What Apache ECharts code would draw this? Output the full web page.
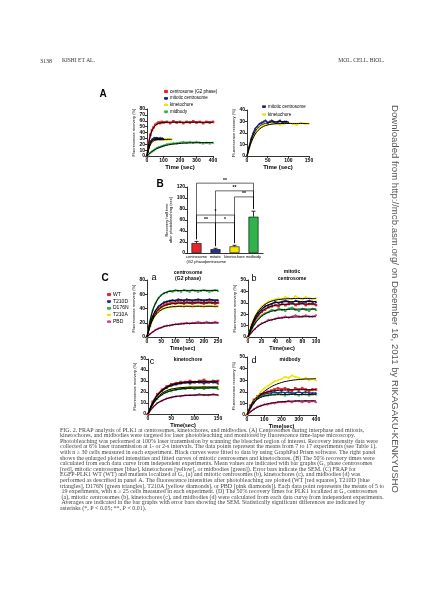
<!DOCTYPE html>
<html><head><meta charset="utf-8">
<script src="https://cdn.jsdelivr.net/npm/echarts/dist/echarts.min.js"></script>
<style>html,body{margin:0;padding:0;background:#fff}#c{width:424px;height:600px}</style>
</head><body><div id="c"></div>
<script>
// ---------- Panel A data ----------
const tALong = [0,10,20,30,40,50,60,70,80,90,100,120,140,160,180,200,220,240,260,280,300,320,340,360,380,400];
const centroG2 = [0,23,36,44,49,53,55,57,56,58,57,58,56,59,57,58,56,58,57,59,57,58,56,58,57,58];
const centroG2Fit = [0,21,34,43,48,52,54,55.5,56.3,56.8,57.1,57.4,57.5,57.5,57.5,57.5,57.5,57.5,57.5,57.5,57.5,57.5,57.5,57.5,57.5,57.5];
const midbody = [0,3,6,8,10,12,14,15,16,17,18,20,21,22,22,23,24,23,24,23,24,23,22,23,22,23];
const midbodyFit = [0,2.8,5.3,7.5,9.4,11.1,12.6,13.9,15.0,16.0,16.9,18.3,19.4,20.3,20.9,21.4,21.8,22.1,22.3,22.5,22.6,22.7,22.8,22.8,22.9,22.9];
const tAMit = [0,5,10,15,20,25,30,35,40,45,50,55,60,65,70,75,80,85,90,95,100];
const mitCentro = [0,8,15,20,24,26,28,29,30,31,29,30,31,30,29,30,31,29,30,30,29];
const mitCentroFit = [0,7.5,13.5,18,21.5,24,25.8,27,27.9,28.5,29,29.3,29.5,29.6,29.7,29.8,29.8,29.8,29.8,29.8,29.8];
const tAKin = [0,10,20,30,40,50,60,70,80,90,100,110,120,130,140,150];
const kineto = [0,12,20,24,27,27,28,29,27,28,29,28,27,29,28,28];
const kinetoFit = [0,11.5,19,23.3,25.7,27,27.7,28,28.2,28.3,28.3,28.3,28.3,28.3,28.3,28.3];

// ---------- Panel B data ----------
const bCats = ['centrosome\n(G2 phase)','mitotic\ncentrosome','kinetochore','midbody'];
const bMeans = [18,7,12,66];
const bSem = [3,1.5,2,10];
const bracketFrom = [0,1,2,0,0,1];
const bracketTo = [3,3,3,2,1,2];
const bracketLevel = [127,113,102,69,55,55];
const bracketMark = ['**','**','**','*','**','*'];

// ---------- Panel C data ----------
const tCa = [0,10,20,30,40,50,60,70,80,90,100,110,120,130,140,150,160,170,180,190,200,210,220,230,240,250];
const WTa = [0,16,27,34,39,42,45,46,47,48,47,49,48,47,49,48,47,48,49,48,47,48,49,48,47,48];
const WTaFit = [0,15,26,33,38,41.5,43.6,45,46,46.7,47.1,47.4,47.6,47.7,47.8,47.8,47.9,47.9,47.9,47.9,47.9,47.9,47.9,47.9,47.9,47.9];
const T210Da = [0,17,29,37,43,46,49,50,51,52,51,53,52,51,53,52,51,52,53,52,51,52,53,52,51,52];
const T210DaFit = [0,17,29,37,42,45.5,48,49.5,50.5,51,51.4,51.7,51.8,51.9,52,52,52,52,52,52,52,52,52,52,52,52];
const D176Na = [0,22,38,48,55,59,62,63,65,64,66,65,64,66,65,64,66,65,64,65,66,65,64,65,66,65];
const D176NaFit = [0,21,37,47,54,58.5,61.3,63,64,64.6,65,65.2,65.3,65.4,65.4,65.4,65.4,65.4,65.4,65.4,65.4,65.4,65.4,65.4,65.4,65.4];
const T210Aa = [0,14,24,31,35,38,40,41,42,43,42,44,43,42,44,43,42,43,44,43,42,43,44,43,42,43];
const T210AaFit = [0,14,24,30.5,35,38,40,41.3,42,42.5,42.8,43,43.1,43.1,43.1,43.1,43.1,43.1,43.1,43.1,43.1,43.1,43.1,43.1,43.1,43.1];
const PBDa = [0,4,7,10,12,13,15,16,16,17,18,18,19,19,20,19,20,20,21,20,20,21,20,20,21,20];
const PBDaFit = [0,3.8,7,9.6,11.7,13.3,14.6,15.6,16.4,17.1,17.6,18,18.3,18.6,18.8,19,19.1,19.2,19.3,19.4,19.5,19.5,19.6,19.6,19.6,19.7];

const tCb = [0,5,10,15,20,25,30,35,40,45,50,55,60,65,70,75,80,85,90,95,100];
const T210Ab = [0,11,18,23,27,29,31,32,33,34,33,35,34,33,36,34,33,35,34,33,34];
const T210AbFit = [0,10,17.5,22.5,26,28.5,30.3,31.5,32.3,32.8,33.2,33.5,33.6,33.7,33.8,33.8,33.8,33.8,33.8,33.8,33.8];
const T210Db = [0,9,16,21,24,27,28,29,31,30,31,32,31,30,32,31,30,31,32,31,31];
const T210DbFit = [0,9,16,21,24.5,26.8,28.3,29.3,30,30.4,30.7,30.9,31,31,31.1,31.1,31.1,31.1,31.1,31.1,31.1];
const WTb = [0,8,14,19,22,24,26,27,28,27,29,28,29,30,28,29,30,28,29,29,28];
const WTbFit = [0,8,14.5,19,22.3,24.5,26,27,27.7,28.2,28.5,28.7,28.8,28.9,28.9,29,29,29,29,29,29];
const D176Nb = [0,6,12,16,19,21,22,24,23,25,24,23,25,26,24,23,25,24,23,25,24];
const D176NbFit = [0,6.5,11.5,15.3,18.2,20.2,21.6,22.6,23.3,23.7,24,24.2,24.3,24.4,24.4,24.5,24.5,24.5,24.5,24.5,24.5];
const PBDb = [0,4,7,10,12,13,15,15,16,17,17,18,17,18,19,18,18,19,18,18,19];
const PBDbFit = [0,3.8,7,9.5,11.5,13,14.2,15.1,15.8,16.3,16.7,17,17.2,17.4,17.5,17.6,17.7,17.8,17.8,17.8,17.8];

const tCc = [0,10,20,30,40,50,60,70,80,90,100,110,120,130,140,150];
const WTc = [0,11,18,22,25,27,28,29,29,30,29,30,31,29,30,30];
const WTcFit = [0,10.5,17.3,21.8,24.7,26.6,27.8,28.5,29,29.3,29.5,29.6,29.7,29.7,29.8,29.8];
const T210Dc = [0,10,17,21,24,26,27,28,29,28,29,29,28,29,29,28];
const T210DcFit = [0,10,16.8,21.2,24,25.9,27,27.8,28.3,28.6,28.8,28.9,29,29,29,29];
const D176Nc = [0,9,14,18,20,21,22,23,23,24,23,24,23,24,24,23];
const D176NcFit = [0,8.6,14,17.5,19.8,21.3,22.2,22.8,23.2,23.4,23.5,23.6,23.6,23.7,23.7,23.7];
const T210Ac = [0,9,15,19,21,23,23,24,24,25,24,24,25,24,24,25];
const T210AcFit = [0,9,15,18.8,21.2,22.6,23.4,23.9,24.2,24.4,24.5,24.5,24.6,24.6,24.6,24.6];
const PBDc = [0,6,10,12,14,15,16,16,17,17,17,18,17,17,18,17];
const PBDcFit = [0,5.8,9.7,12.3,14,15.2,16,16.5,16.8,17,17.2,17.3,17.4,17.4,17.5,17.5];

const tCd = [0,20,40,60,80,100,120,140,160,180,200,220,240,260,280,300,320,340,360,380,400];
const T210Ad = [0,7,12,16,20,23,25,27,29,30,31,33,32,34,33,32,31,32,30,31,30];
const T210AdFit = [0,5.5,10.3,14.3,17.6,20.3,22.5,24.3,25.8,27,28,28.8,29.4,29.9,30.3,30.6,30.8,31,31.1,31.2,31.3];
const WTd = [0,8,13,16,18,19,20,21,22,23,22,23,22,21,23,22,23,22,21,22,22];
const WTdFit = [0,7.5,12.5,15.6,17.6,19,19.9,20.5,20.9,21.2,21.4,21.5,21.6,21.7,21.7,21.8,21.8,21.8,21.8,21.8,21.8];
const T210Dd = [0,7,12,15,17,18,19,19,20,19,20,19,20,19,19,20,19,20,19,19,19];
const D176Nd = [0,7,11,14,16,17,17,18,18,19,18,17,18,19,18,17,18,18,17,18,18];
const D176NdFit = [0,6.8,11,13.6,15.2,16.2,16.8,17.2,17.4,17.5,17.6,17.7,17.7,17.7,17.7,17.7,17.7,17.7,17.7,17.7,17.7];
const PBDd = [0,3,5,7,8,9,9,10,10,11,11,11,12,11,12,12,11,12,11,12,11];
const PBDdFit = [0,2.6,4.8,6.5,7.8,8.9,9.7,10.3,10.8,11.2,11.5,11.7,11.9,12,12.1,12.2,12.2,12.3,12.3,12.3,12.3];

const caption = 'FIG. 2. FRAP analysis of PLK1 at centrosomes, kinetochores, and midbodies. (A) Centrosomes during interphase and mitosis, kinetochores, and midbodies were targeted for laser photobleaching and monitored by fluorescence time-lapse microscopy. Photobleaching was performed at 100% laser transmission by scanning the bleached region of interest. Recovery intensity data were collected at 6% laser transmission at 1- or 2-s intervals. The data points represent the means from 7 to 17 experiments (see Table 1), with n \u2265 30 cells measured in each experiment. Black curves were fitted to data by using GraphPad Prism software. The right panel shows the enlarged plotted intensities and fitted curves of mitotic centrosomes and kinetochores. (B) The 50% recovery times were calculated from each data curve from independent experiments. Mean values are indicated with bar graphs (G\u2082 phase centrosomes [red], mitotic centrosomes [blue], kinetochores [yellow], or midbodies [green]). Error bars indicate the SEM. (C) FRAP for EGFP-PLK1 WT (WT) and mutants localized at G\u2082 (a) and mitotic centrosomes (b), kinetochores (c), and midbodies (d) was performed as described in panel A. The fluorescence intensities after photobleaching are plotted (WT [red squares], T210D [blue triangles], D176N [green triangles], T210A [yellow diamonds], or PBD [pink diamonds]). Each data point represents the means of 5 to 19 experiments, with n \u2265 25 cells measured in each experiment. (D) The 50% recovery times for PLK1 localized at G\u2082 centrosomes (a), mitotic centrosomes (b), kinetochores (c), and midbodies (d) were calculated from each data curve from independent experiments. Averages are indicated in the bar graphs with error bars showing the SEM. Statistically significant differences are indicated by asterisks (*, P < 0.05; **, P < 0.01).';

// ---------- styling ----------
const RED='#e3262b', BLUE='#26318f', GREEN='#2fb34a', YELLOW='#f2e400', PINK='#e8338a', NAVY='#1c2370';
const SANS='"Liberation Sans", Arial, sans-serif';
const AX={color:'#000',width:0.8};
const pts=(t,v)=>t.map((x,i)=>[x,v[i]]);

function vAx(g,min,max,interval,name,gap,nameSize,bold){
  return {type:'value',gridIndex:g,min,max,interval,
    axisLine:{show:true,onZero:false,lineStyle:AX},
    axisTick:{show:true,length:2,lineStyle:AX},
    splitLine:{show:false},
    axisLabel:{fontSize:5,color:'#000',margin:2,fontFamily:SANS,fontWeight:'bold'},
    name,nameLocation:'middle',nameGap:gap,
    nameTextStyle:{fontSize:nameSize,color:'#000',fontFamily:SANS,fontWeight:bold?'bold':'normal'}};
}
function dataS(name,color,symbol,g,t,v){
  return {type:'line',name,xAxisIndex:g,yAxisIndex:g,data:pts(t,v),
    symbol,symbolSize:2.6,showSymbol:true,itemStyle:{color},
    lineStyle:{color,width:1.4},silent:true,z:2};
}
function fitS(g,t,v){
  return {type:'line',name:'fit',xAxisIndex:g,yAxisIndex:g,data:pts(t,v),
    symbol:'none',smooth:0.4,lineStyle:{color:'#000',width:1},silent:true,z:3};
}

const grids=[
  {left:147,top:109,width:66,height:47},
  {left:247,top:110,width:62,height:46},
  {left:187,top:187,width:76,height:66},
  {left:147,top:280,width:71,height:57},
  {left:248,top:280,width:68,height:57},
  {left:148,top:359,width:70,height:55},
  {left:247,top:357,width:69,height:58}
];
const FR='Fluorescence recovery (%)';
const xAxes=[
  vAx(0,0,400,100,'Time (sec)',8,6,true),
  vAx(1,0,150,50,'Time (sec)',8,6,true),
  {type:'category',gridIndex:2,data:bCats,axisLine:{show:true,lineStyle:AX},axisTick:{show:false},
    axisLabel:{fontSize:4,lineHeight:4.5,color:'#000',margin:2,interval:0,fontFamily:SANS}},
  vAx(3,0,250,50,'Time(sec)',8,5.5,true),
  vAx(4,0,100,20,'Time(sec)',8,5.5,true),
  vAx(5,0,150,50,'Time(sec)',8,5.5,true),
  vAx(6,0,400,100,'Time(sec)',8,5.5,true)
];
const yAxes=[
  vAx(0,0,80,10,FR,9,4,false),
  vAx(1,0,40,10,FR,9,4,false),
  vAx(2,0,120,20,'Recovery half time\nafter photobleaching (sec)',9,4,false),
  vAx(3,0,80,20,FR,9,4,false),
  vAx(4,0,50,10,FR,9,4,false),
  vAx(5,0,50,10,FR,9,4,false),
  vAx(6,0,50,10,FR,9,4,false)
];

const series=[
  // A left
  dataS('centrosome (G2 phase)',RED,'rect',0,tALong,centroG2),
  dataS('midbody',GREEN,'triangle',0,tALong,midbody),
  dataS('kinetochore',YELLOW,'diamond',0,tAKin,kineto),
  dataS('mitotic centrosome',NAVY,'triangle',0,tAMit,mitCentro),
  fitS(0,tALong,centroG2Fit),fitS(0,tALong,midbodyFit),fitS(0,tAKin,kinetoFit),fitS(0,tAMit,mitCentroFit),
  // A right
  dataS('kinetochore',YELLOW,'diamond',1,tAKin,kineto),
  dataS('mitotic centrosome',NAVY,'triangle',1,tAMit,mitCentro),
  fitS(1,tAKin,kinetoFit),fitS(1,tAMit,mitCentroFit),
  // B bars
  {type:'bar',xAxisIndex:2,yAxisIndex:2,barWidth:10,silent:true,
    data:bMeans.map((v,i)=>({value:v,itemStyle:{color:[RED,BLUE,YELLOW,GREEN][i],borderColor:'#000',borderWidth:0.6}}))},
  {type:'custom',xAxisIndex:2,yAxisIndex:2,silent:true,z:4,
    data:bMeans.map((m,i)=>[i,m,bSem[i]]),
    renderItem:(p,api)=>{
      const i=api.value(0),m=api.value(1),e=api.value(2);
      const a=api.coord([i,m]),b=api.coord([i,m+e]);
      return {type:'group',children:[
        {type:'line',shape:{x1:a[0],y1:a[1],x2:b[0],y2:b[1]},style:{stroke:'#000',lineWidth:0.8}},
        {type:'line',shape:{x1:b[0]-2,y1:b[1],x2:b[0]+2,y2:b[1]},style:{stroke:'#000',lineWidth:0.8}}]};
    }},
  {type:'custom',xAxisIndex:2,yAxisIndex:2,silent:true,z:4,clip:false,
    data:bracketFrom.map((f,k)=>[f,bracketTo[k],bracketLevel[k]]),
    renderItem:(p,api)=>{
      const f=api.value(0),t=api.value(1),L=api.value(2);
      const p1=api.coord([f,L]),p2=api.coord([t,L]);
      const b1=api.coord([f,bMeans[f]+bSem[f]+4]),b2=api.coord([t,bMeans[t]+bSem[t]+4]);
      return {type:'group',children:[
        {type:'polyline',shape:{points:[[p1[0],b1[1]],[p1[0],p1[1]],[p2[0],p2[1]],[p2[0],b2[1]]]},style:{stroke:'#000',lineWidth:0.6,fill:null}},
        {type:'text',style:{x:(p1[0]+p2[0])/2,y:p1[1]-0.5,text:bracketMark[p.dataIndex],textAlign:'center',textVerticalAlign:'bottom',font:'bold 5px '+SANS,fill:'#000'}}]};
    }},
  // C a
  dataS('PBD',PINK,'diamond',3,tCa,PBDa),
  dataS('T210A',YELLOW,'diamond',3,tCa,T210Aa),
  dataS('WT',RED,'rect',3,tCa,WTa),
  dataS('T210D',BLUE,'triangle',3,tCa,T210Da),
  dataS('D176N',GREEN,'triangle',3,tCa,D176Na),
  fitS(3,tCa,PBDaFit),fitS(3,tCa,T210AaFit),fitS(3,tCa,WTaFit),fitS(3,tCa,T210DaFit),fitS(3,tCa,D176NaFit),
  // C b
  dataS('PBD',PINK,'diamond',4,tCb,PBDb),
  dataS('D176N',GREEN,'triangle',4,tCb,D176Nb),
  dataS('WT',RED,'rect',4,tCb,WTb),
  dataS('T210D',BLUE,'triangle',4,tCb,T210Db),
  dataS('T210A',YELLOW,'diamond',4,tCb,T210Ab),
  fitS(4,tCb,PBDbFit),fitS(4,tCb,D176NbFit),fitS(4,tCb,WTbFit),fitS(4,tCb,T210DbFit),fitS(4,tCb,T210AbFit),
  // C c
  dataS('PBD',PINK,'diamond',5,tCc,PBDc),
  dataS('T210A',YELLOW,'diamond',5,tCc,T210Ac),
  dataS('D176N',GREEN,'triangle',5,tCc,D176Nc),
  dataS('T210D',BLUE,'triangle',5,tCc,T210Dc),
  dataS('WT',RED,'rect',5,tCc,WTc),
  fitS(5,tCc,PBDcFit),fitS(5,tCc,T210AcFit),fitS(5,tCc,D176NcFit),fitS(5,tCc,T210DcFit),fitS(5,tCc,WTcFit),
  // C d
  dataS('PBD',PINK,'diamond',6,tCd,PBDd),
  dataS('D176N',GREEN,'triangle',6,tCd,D176Nd),
  dataS('T210D',BLUE,'triangle',6,tCd,T210Dd),
  dataS('WT',RED,'rect',6,tCd,WTd),
  dataS('T210A',YELLOW,'diamond',6,tCd,T210Ad),
  fitS(6,tCd,PBDdFit),fitS(6,tCd,D176NdFit),fitS(6,tCd,WTdFit),fitS(6,tCd,T210AdFit)
];

function legend(left,top,names,gap,size){
  return {left,top,orient:'vertical',data:names,itemWidth:4,itemHeight:4,itemGap:gap,selectedMode:false,
    textStyle:{fontSize:size,lineHeight:4,color:'#000',fontFamily:SANS,padding:[0,0,0,-3]},padding:0};
}
const legends=[
  legend(163,89,['centrosome (G2 phase)','mitotic centrosome','kinetochore','midbody'],1.7,4.5),
  legend(261,104,['mitotic centrosome','kinetochore'],3,4.5),
  legend(106,292,['WT','T210D','D176N','T210A','PBD'],1.8,5)
];

function txt(x,y,text,font,align,fill){
  return {type:'text',x,y,silent:true,style:{text,font,textAlign:align||'center',textVerticalAlign:'middle',fill:fill||'#000'}};
}
const graphics=[
  txt(40,61,'3138','6px "Liberation Serif"','left','#333'),
  txt(62,61,'KISHI ET AL.','5.5px "Liberation Serif"','left','#333'),
  txt(384,61,'MOL. CELL. BIOL.','5.5px "Liberation Serif"','right','#333'),
  txt(103,94,'A','bold 10px '+SANS),
  txt(160,184,'B','bold 10px '+SANS),
  txt(105,278,'C','bold 10px '+SANS),
  txt(154,278,'a','9px '+SANS),
  txt(254,279,'b','9px '+SANS),
  txt(152,362,'c','9px '+SANS),
  txt(254,361,'d','9px '+SANS),
  txt(188,273,'centrosome','bold 5px '+SANS),
  txt(188,279,'(G2 phase)','bold 5px '+SANS),
  txt(292,272,'mitotic','bold 5px '+SANS),
  txt(292,279,'centrosome','bold 5px '+SANS),
  txt(188,360,'kinetochore','bold 5px '+SANS),
  txt(290,360,'midbody','bold 5px '+SANS),
  {type:'text',left:60,top:427,silent:true,style:{text:caption,width:325,overflow:'break',font:'6px "Liberation Serif"',lineHeight:5.6,fill:'#444'}},
  {type:'text',x:395,y:299,rotation:-Math.PI/2,silent:true,style:{text:'Downloaded from http://mcb.asm.org/ on December 16, 2011 by RIKAGAKU-KENKYUSHO',font:'9.6px '+SANS,textAlign:'center',textVerticalAlign:'middle',fill:'#555'}}
];

const chart=echarts.init(document.getElementById('c'),null,{renderer:'canvas'});
chart.setOption({animation:false,backgroundColor:'#fff',grid:grids,xAxis:xAxes,yAxis:yAxes,series,legend:legends,graphic:graphics});
</script></body></html>
